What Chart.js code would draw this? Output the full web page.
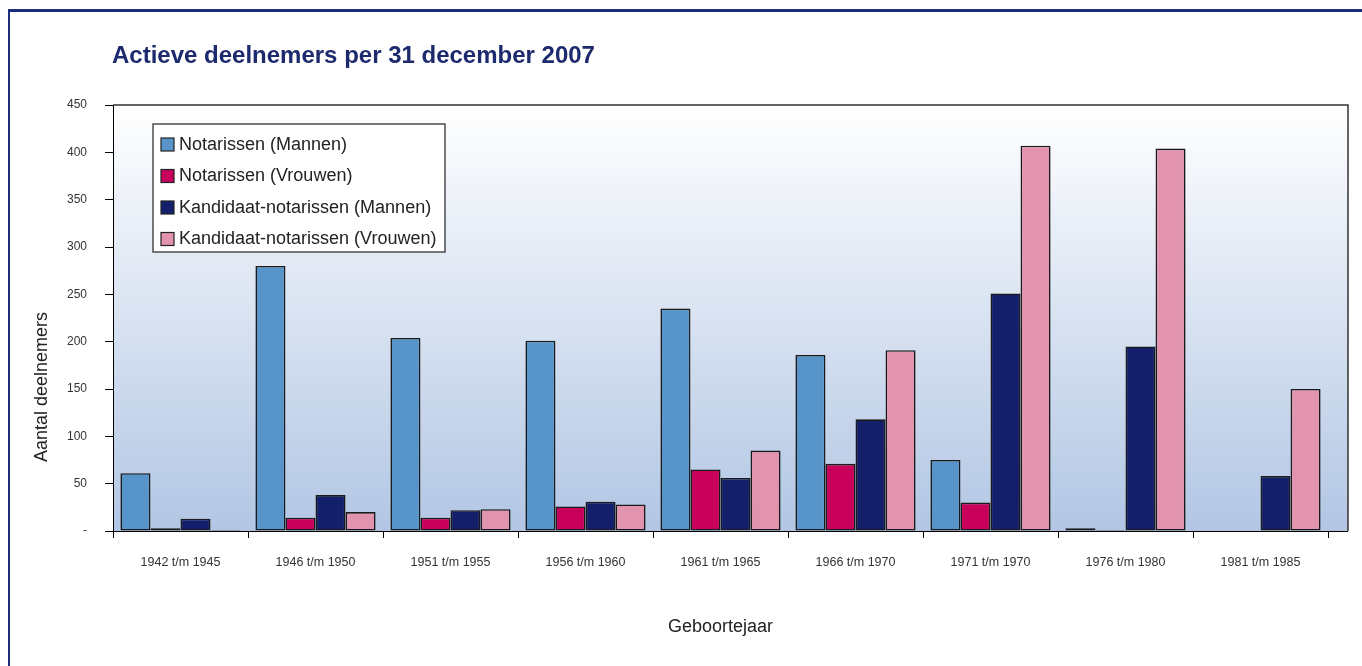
<!DOCTYPE html>
<html lang="nl">
<head>
    <meta charset="UTF-8">
    <title>Actieve deelnemers per 31 december 2007</title>
    <script src="https://cdn.jsdelivr.net/npm/chart.js"></script>
    <style>
        body {
            margin: 0;
            background: #ffffff;
            font-family: "Liberation Sans", Arial, sans-serif;
        }
        #frame {
            position: absolute;
            left: 8px;
            top: 9px;
            width: 1354px;
            height: 657px;
            border-top: 3px solid #1b2d7c;
            border-left: 2px solid #1b2d7c;
            box-sizing: border-box;
        }
        #titel {
            position: absolute;
            left: 112px;
            top: 41px;
            font-size: 24px;
            font-weight: bold;
            color: #1d2a6e;
        }
        #wrap {
            position: absolute;
            left: 0;
            top: 0;
            width: 1362px;
            height: 666px;
        }
    </style>
</head>
<body>
    <div id="frame"></div>
    <div id="wrap"><canvas id="grafiek" width="1362" height="666"></canvas></div>
    <div id="titel">Actieve deelnemers per 31 december 2007</div>

    <script>
        const categorieen = ['1942 t/m 1945', '1946 t/m 1950', '1951 t/m 1955', '1956 t/m 1960',
            '1961 t/m 1965', '1966 t/m 1970', '1971 t/m 1970', '1976 t/m 1980', '1981 t/m 1985'];
        const notarissenMannen = [61, 280, 204, 201, 235, 186, 75, 3, 0];
        const notarissenVrouwen = [3, 14, 14, 26, 65, 71, 30, 1, 0];
        const kandidaatMannen = [13, 38, 22, 31, 56, 118, 251, 195, 58];
        const kandidaatVrouwen = [1, 20, 23, 28, 85, 191, 407, 404, 150];

        const yTitel = 'Aantal deelnemers';
        const lettertype = '"Liberation Sans", Arial, sans-serif';

        // plot area in the original runs a bit past the last group
        const extraRechts = 20;

        const kader = {
            id: 'kader',
            beforeDraw(chart) {
                const {ctx, chartArea: a} = chart;
                const g = ctx.createLinearGradient(0, a.top, 0, a.bottom);
                g.addColorStop(0, '#ffffff');
                g.addColorStop(1, '#b2c6e4');
                ctx.save();
                ctx.fillStyle = g;
                ctx.fillRect(a.left, a.top, a.right + extraRechts - a.left, a.bottom - a.top);
                ctx.restore();
            },
            afterDraw(chart) {
                const {ctx, chartArea: a} = chart;
                const r = a.right + extraRechts;
                ctx.save();
                ctx.strokeStyle = '#333333';
                ctx.lineWidth = 1.5;
                ctx.beginPath();
                ctx.moveTo(a.left, a.top);
                ctx.lineTo(r, a.top);
                ctx.lineTo(r, a.bottom);
                ctx.stroke();
                ctx.strokeStyle = '#000000';
                ctx.lineWidth = 1;
                ctx.beginPath();
                ctx.moveTo(a.right, a.bottom + 0.5);
                ctx.lineTo(r, a.bottom + 0.5);
                ctx.stroke();

                // y-as titel, in het origineel wat lager dan het midden
                ctx.save();
                ctx.translate(42, a.bottom - 144);
                ctx.rotate(-Math.PI / 2);
                ctx.font = '18px ' + lettertype;
                ctx.fillStyle = '#222222';
                ctx.textAlign = 'center';
                ctx.textBaseline = 'middle';
                ctx.fillText(yTitel, 0, 0);
                ctx.restore();

                // legenda
                const lx = a.left + 40, ly = a.top + 19, bw = 292, bh = 128;
                ctx.fillStyle = '#ffffff';
                ctx.fillRect(lx, ly, bw, bh);
                ctx.strokeStyle = '#222222';
                ctx.lineWidth = 1.2;
                ctx.strokeRect(lx, ly, bw, bh);
                ctx.font = '18px ' + lettertype;
                ctx.textBaseline = 'middle';
                chart.data.datasets.forEach((ds, i) => {
                    const y = ly + 20 + i * 31.5;
                    ctx.fillStyle = ds.backgroundColor;
                    ctx.fillRect(lx + 8, y - 6, 13, 13);
                    ctx.strokeStyle = '#222222';
                    ctx.strokeRect(lx + 8, y - 6, 13, 13);
                    ctx.fillStyle = '#222222';
                    ctx.fillText(ds.label, lx + 26, y + 1);
                });
                ctx.restore();
            }
        };

        function reeks(label, data, kleur) {
            return {
                label: label,
                data: data,
                backgroundColor: kleur,
                borderColor: '#1a1a1a',
                borderWidth: 1.6,
                borderSkipped: false,
                categoryPercentage: 0.89,
                barPercentage: 1.0
            };
        }

        new Chart(document.getElementById('grafiek').getContext('2d'), {
            type: 'bar',
            data: {
                labels: categorieen,
                datasets: [
                    reeks('Notarissen (Mannen)', notarissenMannen, '#5694ca'),
                    reeks('Notarissen (Vrouwen)', notarissenVrouwen, '#c8005c'),
                    reeks('Kandidaat-notarissen (Mannen)', kandidaatMannen, '#131f6a'),
                    reeks('Kandidaat-notarissen (Vrouwen)', kandidaatVrouwen, '#e293ae')
                ]
            },
            options: {
                responsive: false,
                animation: false,
                layout: { padding: { left: 0, top: 105, right: 34, bottom: 0 } },
                plugins: {
                    legend: { display: false },
                    tooltip: { enabled: false }
                },
                scales: {
                    x: {
                        afterFit(s) { s.height = 135; },
                        grid: {
                            offset: true,
                            drawOnChartArea: false,
                            tickLength: 7,
                            color: '#000000'
                        },
                        border: { color: '#000000', width: 1 },
                        ticks: {
                            color: '#333333',
                            padding: 17,
                            maxRotation: 0,
                            font: { family: lettertype, size: 12.5 }
                        },
                        title: {
                            display: true,
                            text: 'Geboortejaar',
                            color: '#222222',
                            padding: { top: 0, bottom: 28 },
                            font: { family: lettertype, size: 18 }
                        }
                    },
                    y: {
                        min: 0,
                        max: 450,
                        afterFit(s) { s.width = 113; },
                        grid: {
                            drawOnChartArea: false,
                            tickLength: 8,
                            color: '#000000'
                        },
                        border: { color: '#000000', width: 1 },
                        ticks: {
                            stepSize: 50,
                            color: '#333333',
                            padding: 18,
                            font: { family: lettertype, size: 12 },
                            callback: v => v === 0 ? '-' : v
                        }
                    }
                }
            },
            plugins: [kader]
        });
    </script>
</body>
</html>
